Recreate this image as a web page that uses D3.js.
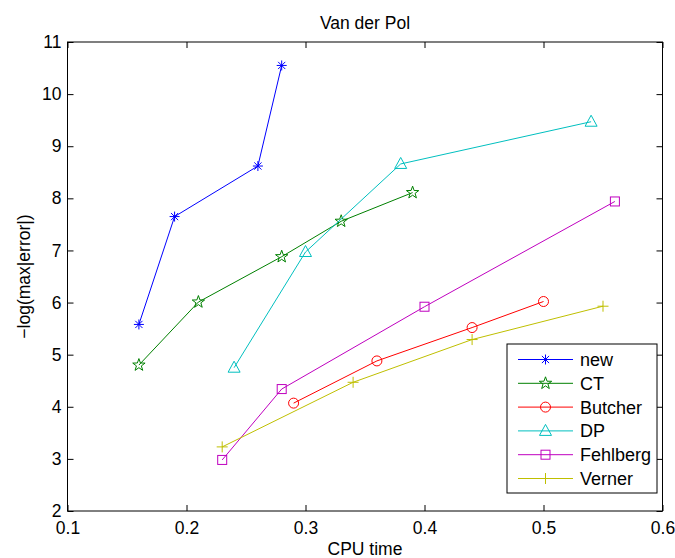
<!DOCTYPE html>
<html>
<head>
<meta charset="utf-8">
<script src="https://cdn.jsdelivr.net/npm/d3@7"></script>
<style>
  html, body { margin: 0; padding: 0; background: #fff; }
  svg { display: block; font-family: "Liberation Sans", Arial, Helvetica, sans-serif; }
</style>
</head>
<body>
<svg id="chart" width="675" height="558"></svg>
<script>
// ---- Data ----
const seriesNames = ["new", "CT", "Butcher", "DP", "Fehlberg", "Verner"];
const newX = [0.16, 0.19, 0.26, 0.28];
const newY = [5.58, 7.65, 8.62, 10.55];
const ctX = [0.16, 0.21, 0.28, 0.33, 0.39];
const ctY = [4.80, 6.01, 6.88, 7.56, 8.11];
const butcherX = [0.29, 0.36, 0.44, 0.50];
const butcherY = [4.07, 4.88, 5.52, 6.02];
const dpX = [0.24, 0.30, 0.38, 0.54];
const dpY = [4.75, 6.97, 8.66, 9.47];
const fehlbergX = [0.23, 0.28, 0.40, 0.56];
const fehlbergY = [2.98, 4.34, 5.92, 7.94];
const vernerX = [0.23, 0.34, 0.44, 0.55];
const vernerY = [3.23, 4.47, 5.29, 5.93];
const xTicks = [0.1, 0.2, 0.3, 0.4, 0.5, 0.6];
const yTicks = [2, 3, 4, 5, 6, 7, 8, 9, 10, 11];
const titleText = "Van der Pol";
const xLabelText = "CPU time";
const yLabelText = "\u2212log(max|error|)";

const series = [
  { name: seriesNames[0], xs: newX, ys: newY, color: "#0000ff", marker: "asterisk" },
  { name: seriesNames[1], xs: ctX, ys: ctY, color: "#008000", marker: "star" },
  { name: seriesNames[2], xs: butcherX, ys: butcherY, color: "#ff0000", marker: "circle" },
  { name: seriesNames[3], xs: dpX, ys: dpY, color: "#00bfbf", marker: "triangle" },
  { name: seriesNames[4], xs: fehlbergX, ys: fehlbergY, color: "#bf00bf", marker: "square" },
  { name: seriesNames[5], xs: vernerX, ys: vernerY, color: "#bfbf00", marker: "plus" }
];

// ---- Layout ----
const svg = d3.select("#chart");
const L = 67.5, R = 662.5, T = 42, B = 511;
const x = d3.scaleLinear().domain([0.1, 0.6]).range([L, R]);
const y = d3.scaleLinear().domain([2, 11]).range([B, T]);
const fontSize = 17.5;
const legendFont = 18;
const tickLen = 6;

// ---- Markers ----
function starPath(ro) {
  const ri = ro * 0.4;
  let p = [];
  for (let i = 0; i < 10; i++) {
    const r = i % 2 === 0 ? ro : ri;
    const a = -Math.PI / 2 + i * Math.PI / 5;
    p.push([r * Math.cos(a), r * Math.sin(a)]);
  }
  return "M" + p.map(d => d[0].toFixed(2) + "," + d[1].toFixed(2)).join("L") + "Z";
}
function drawMarker(g, type, cx, cy, color) {
  const m = g.append("g").attr("transform", `translate(${cx},${cy})`)
    .attr("fill", "none").attr("stroke", color).attr("stroke-width", 1);
  if (type === "asterisk") {
    const r = 5;
    m.append("path").attr("d",
      `M${-r},0L${r},0M0,${-r}L0,${r}M${-r*0.72},${-r*0.72}L${r*0.72},${r*0.72}M${-r*0.72},${r*0.72}L${r*0.72},${-r*0.72}`);
  } else if (type === "star") {
    m.append("path").attr("d", starPath(6.5));
  } else if (type === "circle") {
    m.append("circle").attr("r", 5);
  } else if (type === "triangle") {
    m.append("path").attr("d", "M0,-6.5L6,4.5L-6,4.5Z");
  } else if (type === "square") {
    m.append("rect").attr("x", -4.5).attr("y", -4.5).attr("width", 9).attr("height", 9);
  } else if (type === "plus") {
    m.append("path").attr("d", "M-5.5,0L5.5,0M0,-5.5L0,5.5");
  }
}

// ---- Axes (box with inward ticks on all sides) ----
const axesG = svg.append("g");
axesG.append("rect").attr("x", L).attr("y", T).attr("width", R - L).attr("height", B - T)
  .attr("fill", "none").attr("stroke", "#000").attr("stroke-width", 1);

const xb = d3.axisBottom(x).tickValues(xTicks).tickSize(-tickLen).tickPadding(11).tickFormat(d3.format("~g"));
const xt = d3.axisTop(x).tickValues(xTicks).tickSize(-tickLen).tickFormat("");
const yl = d3.axisLeft(y).tickValues(yTicks).tickSize(-tickLen).tickPadding(6).tickFormat(d3.format("~g"));
const yr = d3.axisRight(y).tickValues(yTicks).tickSize(-tickLen).tickFormat("");

function styleAxis(g) {
  g.select(".domain").remove();
  g.selectAll(".tick line").attr("stroke", "#000").attr("stroke-width", 1);
  g.selectAll(".tick text").attr("fill", "#000").attr("font-size", fontSize)
    .attr("font-family", "Liberation Sans, Arial, sans-serif");
}
axesG.append("g").attr("transform", `translate(0,${B})`).call(xb).call(styleAxis);
axesG.append("g").attr("transform", `translate(0,${T})`).call(xt).call(styleAxis);
axesG.append("g").attr("transform", `translate(${L},0)`).call(yl).call(styleAxis);
axesG.append("g").attr("transform", `translate(${R},0)`).call(yr).call(styleAxis);

// ---- Lines and markers ----
const line = d3.line().x(d => x(d[0])).y(d => y(d[1]));
const plotG = svg.append("g");
series.forEach(s => {
  const pts = s.xs.map((v, i) => [v, s.ys[i]]);
  plotG.append("path").datum(pts).attr("d", line)
    .attr("fill", "none").attr("stroke", s.color).attr("stroke-width", 1);
  pts.forEach(p => drawMarker(plotG, s.marker, x(p[0]), y(p[1]), s.color));
});

// ---- Labels ----
svg.append("text").attr("x", (L + R) / 2).attr("y", 29).attr("text-anchor", "middle")
  .attr("font-size", fontSize).attr("fill", "#000").text(titleText);
svg.append("text").attr("x", (L + R) / 2).attr("y", 555).attr("text-anchor", "middle")
  .attr("font-size", fontSize).attr("fill", "#000").text(xLabelText);
svg.append("text").attr("transform", `translate(30,${(T + B) / 2}) rotate(-90)`)
  .attr("text-anchor", "middle").attr("font-size", fontSize).attr("fill", "#000").text(yLabelText);

// ---- Legend ----
const lg = svg.append("g");
const lx0 = 507, ly0 = 344, lw = 150, lh = 149;
lg.append("rect").attr("x", lx0).attr("y", ly0).attr("width", lw).attr("height", lh)
  .attr("fill", "#fff").attr("stroke", "#000").attr("stroke-width", 1);
series.forEach((s, i) => {
  const cy = 359.5 + i * 23.8;
  lg.append("line").attr("x1", 518).attr("x2", 573).attr("y1", cy).attr("y2", cy)
    .attr("stroke", s.color).attr("stroke-width", 1);
  drawMarker(lg, s.marker, 545.5, cy, s.color);
  lg.append("text").attr("x", 580).attr("y", cy).attr("dy", "0.36em")
    .attr("font-size", legendFont).attr("fill", "#000").text(s.name);
});
</script>
</body>
</html>
